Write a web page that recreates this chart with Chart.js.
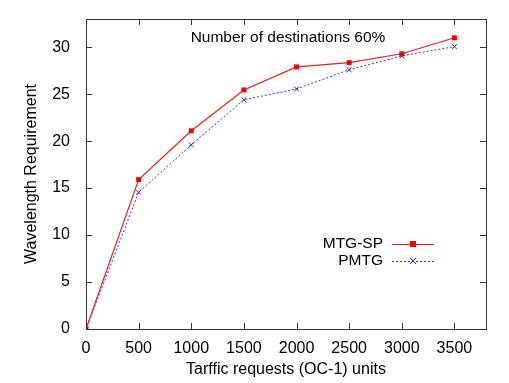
<!DOCTYPE html>
<html><head><meta charset="utf-8">
<script src="https://cdn.jsdelivr.net/npm/chart.js@4/dist/chart.umd.min.js"></script>
<style>html,body{margin:0;padding:0;background:#fff}#wrap{width:509px;height:383px}</style>
</head><body><div id="wrap"><canvas id="c" width="509" height="383"></canvas></div>
<script>
const traffic = [0, 500, 1000, 1500, 2000, 2500, 3000, 3500];
const mtgSP = [0, 15.9, 21.1, 25.45, 27.9, 28.35, 29.3, 31.0];
const pmtg = [0, 14.55, 19.6, 24.4, 25.55, 27.6, 29.07, 30.06];
const xTicks = [0, 500, 1000, 1500, 2000, 2500, 3000, 3500];
const yTicks = [0, 5, 10, 15, 20, 25, 30];
const seriesNames = ['MTG-SP', 'PMTG'];
const titleText = 'Number of destinations 60%';
const FONT = '"Liberation Sans", Arial, sans-serif';

const framePlugin = {
  id: 'frame',
  afterDraw(chart) {
    const ctx = chart.ctx, a = chart.chartArea;
    const xs = chart.scales.x, ys = chart.scales.y;
    ctx.save();
    ctx.strokeStyle = '#333';
    ctx.lineWidth = 1;
    ctx.strokeRect(Math.round(a.left) + 0.5, Math.round(a.top) + 0.5, Math.round(a.right - a.left), Math.round(a.bottom - a.top));
    ctx.beginPath();
    const tl = 6;
    xTicks.forEach(v => {
      const px = Math.round(xs.getPixelForValue(v)) + 0.5;
      ctx.moveTo(px, a.bottom); ctx.lineTo(px, a.bottom - tl);
      ctx.moveTo(px, a.top); ctx.lineTo(px, a.top + tl);
    });
    yTicks.forEach(v => {
      const py = Math.round(ys.getPixelForValue(v)) + 0.5;
      ctx.moveTo(a.left, py); ctx.lineTo(a.left + tl, py);
      ctx.moveTo(a.right, py); ctx.lineTo(a.right - tl, py);
    });
    ctx.stroke();
    // title
    ctx.fillStyle = '#000';
    ctx.font = '15.5px ' + FONT;
    ctx.textAlign = 'center';
    ctx.textBaseline = 'middle';
    ctx.fillText(titleText, 288, a.top + 19);
    // legend
    const ds = chart.data.datasets;
    const lx = 383, sx0 = 392, sx1 = 434;
    const ly = [244, 261];
    ds.forEach((d, i) => {
      ctx.fillStyle = '#000';
      ctx.textAlign = 'right';
      ctx.font = '15.5px ' + FONT;
      ctx.fillText(d.label, lx, ly[i]);
      ctx.strokeStyle = d.borderColor;
      ctx.lineWidth = 1;
      ctx.setLineDash(d.borderDash || []);
      ctx.beginPath();
      ctx.moveTo(sx0, ly[i] + 0.5); ctx.lineTo(sx1, ly[i] + 0.5);
      ctx.stroke();
      ctx.setLineDash([]);
      const cx = (sx0 + sx1) / 2;
      if (i === 0) {
        ctx.fillStyle = d.pointBackgroundColor;
        ctx.fillRect(cx - 3, ly[i] - 3, 6, 6);
      } else {
        ctx.strokeStyle = d.pointBorderColor;
        ctx.beginPath();
        ctx.moveTo(cx - 3, ly[i] - 3); ctx.lineTo(cx + 3, ly[i] + 3);
        ctx.moveTo(cx + 3, ly[i] - 3); ctx.lineTo(cx - 3, ly[i] + 3);
        ctx.stroke();
      }
    });
    ctx.restore();
  }
};

new Chart(document.getElementById('c'), {
  type: 'scatter',
  data: {
    datasets: [
      {
        label: seriesNames[0],
        data: traffic.map((x, i) => ({x, y: mtgSP[i]})),
        showLine: true,
        borderColor: '#ee1c1c',
        borderWidth: 1.2,
        pointStyle: 'rect',
        pointRadius: 3.5,
        pointBackgroundColor: '#ee0000',
        pointBorderColor: '#ee0000',
        pointBorderWidth: 0
      },
      {
        label: seriesNames[1],
        data: traffic.map((x, i) => ({x, y: pmtg[i]})),
        showLine: true,
        borderColor: '#3333ee',
        borderWidth: 1,
        borderDash: [2, 2],
        pointStyle: 'crossRot',
        pointRadius: 3.5,
        pointBackgroundColor: '#2222dd',
        pointBorderColor: '#2222dd',
        pointBorderWidth: 1
      }
    ]
  },
  options: {
    responsive: false,
    animation: false,
    devicePixelRatio: 1,
    layout: { padding: { left: 22, right: 23, top: 19, bottom: 4 } },
    plugins: { legend: { display: false }, tooltip: { enabled: false } },
    scales: {
      x: {
        type: 'linear', min: 0, max: 3800,
        afterBuildTicks: s => { s.ticks = xTicks.map(v => ({value: v})); },
        afterFit: s => { s.height = 50; },
        grid: { display: false }, border: { display: false },
        ticks: { color: '#000', padding: 2, font: { family: FONT, size: 16 }, maxRotation: 0, autoSkip: false, callback: v => String(v) },
        title: { display: true, text: 'Tarffic requests (OC-1) units', color: '#000', font: { family: FONT, size: 16 }, padding: { top: 0, bottom: 0 } }
      },
      y: {
        type: 'linear', min: 0, max: 33,
        afterBuildTicks: s => { s.ticks = yTicks.map(v => ({value: v})); },
        afterFit: s => { s.width = 64; },
        grid: { display: false }, border: { display: false },
        ticks: { color: '#000', padding: 8, font: { family: FONT, size: 16 }, callback: v => String(v) },
        title: { display: true, text: 'Wavelength Requirement', color: '#000', font: { family: FONT, size: 16 }, padding: { top: 0, bottom: 0 } }
      }
    }
  },
  plugins: [framePlugin]
});
</script></body></html>
